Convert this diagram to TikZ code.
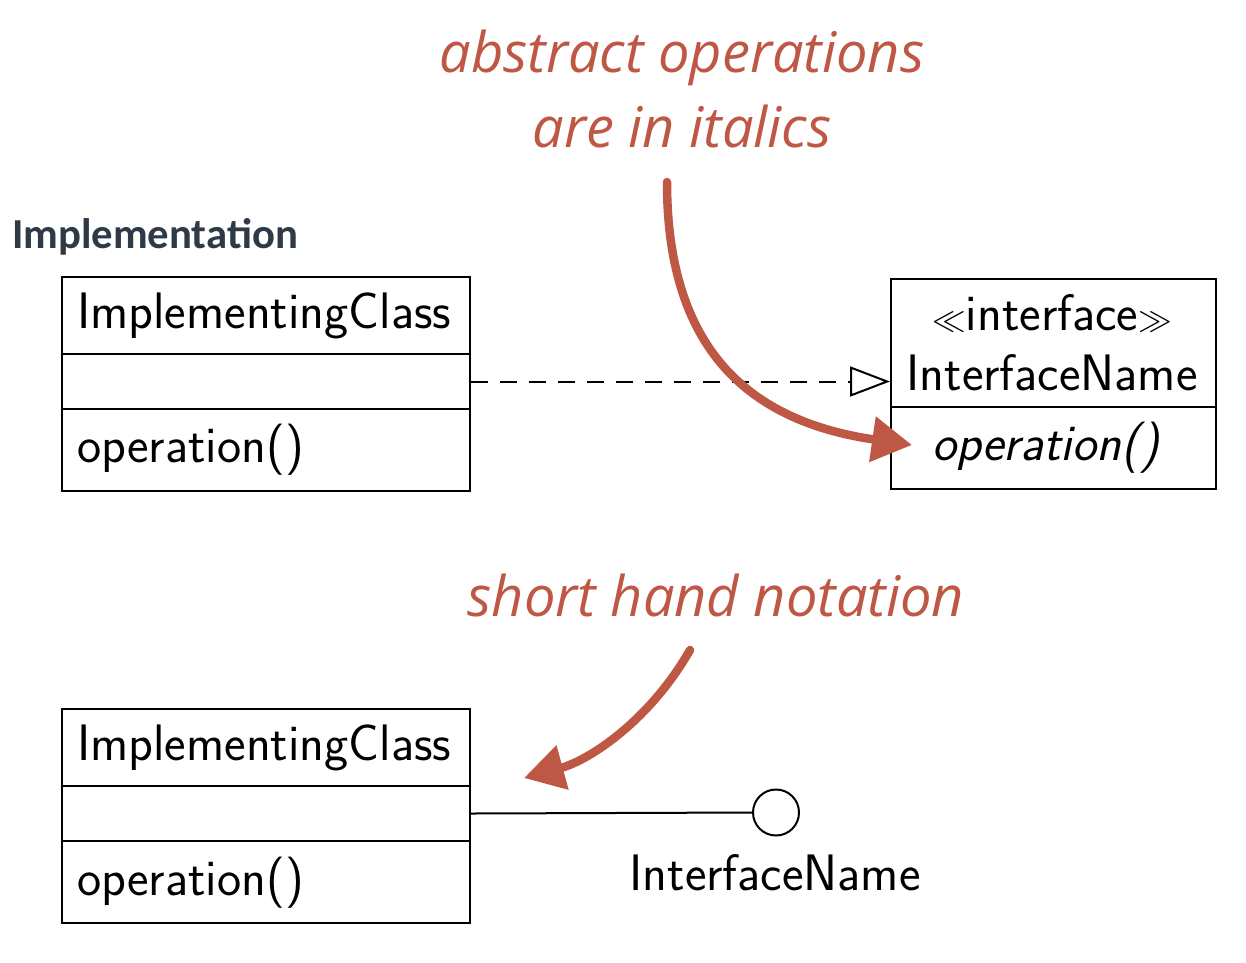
\documentclass[tikz,border=0pt]{standalone}
\usepackage{fontspec}
\usepackage{graphicx}
\newfontfamily\headfont{Carlito}
\newfontfamily\handfont{Open Sans}
\usetikzlibrary{arrows.meta}
\definecolor{hand}{RGB}{190,88,68}
\definecolor{slate}{RGB}{46,58,70}
\newcommand{\bigguil}[1]{\scalebox{1.35}{$#1$}}
\begin{document}
\begin{tikzpicture}[x=1pt,y=-1pt,
  umlfont/.style={font=\sffamily\fontsize{51.3}{60}\selectfont},
  comp/.style={draw, line width=2pt, minimum width=408pt, inner sep=0pt, anchor=north west},
  txt/.style={inner sep=0pt, umlfont},
  handtxt/.style={inner sep=0pt, text=hand, font=\handfont\itshape\fontsize{56}{64}\selectfont},
  handarrow/.style={draw=hand, line width=8.5pt, line cap=round, -{Triangle[length=40pt,width=44pt]}}
]
\useasboundingbox (0,0) rectangle (1246,962);

% heading
\node[inner sep=0pt, anchor=base west, text=slate, font=\headfont\bfseries\fontsize{42.7}{50}\selectfont] (head) at (12,248) {Implementation};

% top implementing class
\node[comp, minimum height=77pt] (c1name) at (61,276) {};
\node[comp, minimum height=55pt] (c1attr) at (61,353) {};
\node[comp, minimum height=82pt] (c1ops) at (61,408) {};
\node[txt, anchor=base west] (c1t) at (77,328) {ImplementingClass};
\node[txt, anchor=base west] (c1o) at (77,462) {operation()};

% interface box
\node[draw, line width=2pt, minimum width=325pt, minimum height=128pt, inner sep=0pt, anchor=north west] (iname) at (890,278) {};
\node[draw, line width=2pt, minimum width=325pt, minimum height=82pt, inner sep=0pt, anchor=north west] (iops) at (890,406) {};
\node[txt, anchor=base] (ist) at (1052,330) {\bigguil{\ll}interface\bigguil{\gg}};
\node[txt, anchor=base] (int) at (1052,390) {InterfaceName};
\node[txt, anchor=base west, font=\sffamily\itshape\fontsize{51.3}{60}\selectfont] (io) at (932,460) {operation()};

% realization
\draw[line width=2pt, dash pattern=on 17pt off 12pt, -{Triangle[open,length=40pt,width=30pt,line width=2pt]}]
  (c1attr.east) -- (c1attr.east -| iname.west);

% bottom implementing class
\node[comp, minimum height=77pt] (c2name) at (61,708) {};
\node[comp, minimum height=55pt] (c2attr) at (61,785) {};
\node[comp, minimum height=82pt] (c2ops) at (61,840) {};
\node[txt, anchor=base west] (c2t) at (77,760) {ImplementingClass};
\node[txt, anchor=base west] (c2o) at (77,895) {operation()};

% lollipop
\node[draw, circle, line width=2pt, minimum size=46pt, inner sep=0pt] (lol) at (776,812.5) {};
\node[txt, anchor=base] (lolt) at (775,890) {InterfaceName};
\draw[line width=2pt] (c2attr.east) -- (lol.west);

% annotations
\node[handtxt, anchor=base] (h1) at (682,72) {abstract operations};
\node[handtxt, anchor=base] (h2) at (682,147) {are in italics};
\node[handtxt, anchor=base] (h3) at (716,616) {short hand notation};

\coordinate (a1s) at (667,182);
\coordinate (a1e) at (912,445);
\draw[handarrow] (a1s) .. controls (667,340) and (740,420) .. (a1e);

\coordinate (a2s) at (690,650);
\coordinate (a2e) at (524,778);
\draw[handarrow] (a2s) .. controls (650,720) and (590,760) .. (a2e);
\end{tikzpicture}
\end{document}
